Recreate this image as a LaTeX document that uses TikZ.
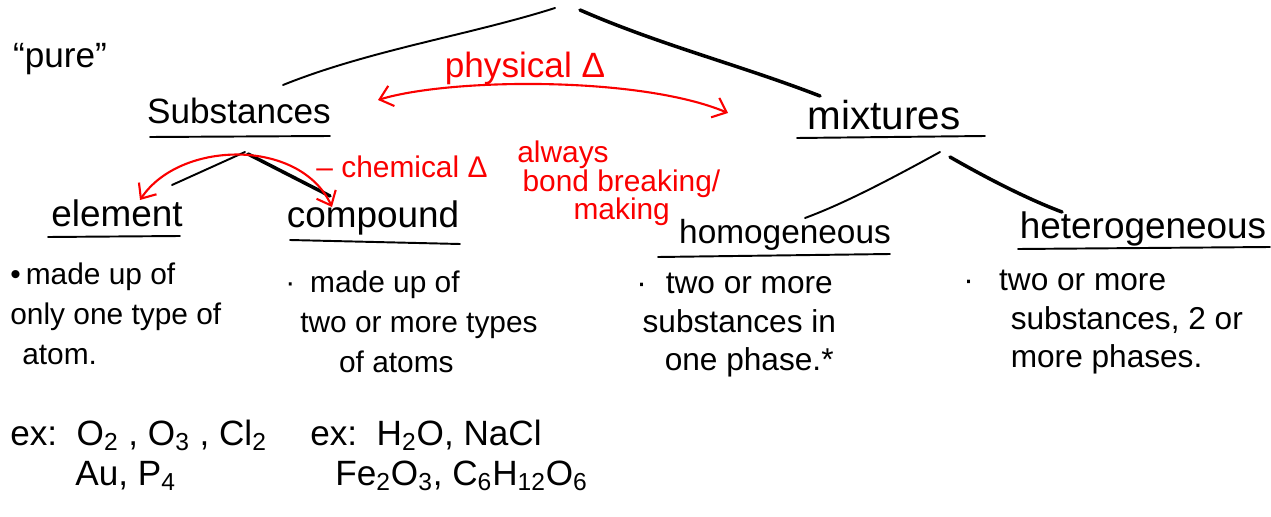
\documentclass[tikz,border=0pt]{standalone}
\usepackage{fontspec}
\setmainfont{Liberation Sans}
\usetikzlibrary{arrows.meta}
\definecolor{inkred}{RGB}{250,0,0}
\begin{document}
\begin{tikzpicture}[x=0.02cm,y=-0.02cm,
  ink/.style={draw=black,line width=1.1pt,line cap=round},
  inkbold/.style={draw=black,line width=2pt,line cap=round},
  redink/.style={draw=inkred,line width=1.2pt,line cap=round,
    {Straight Barb[length=7pt,width=12pt]}-{Straight Barb[length=7pt,width=12pt]}},
  uline/.style={draw=black,line width=1.1pt,line cap=round},
  head/.style={inner sep=0pt,anchor=base},
  body/.style={inner sep=0pt,anchor=north west,align=left,font=\fontsize{17}{22.7}\selectfont},
  hbody/.style={inner sep=0pt,anchor=north west,align=left,font=\fontsize{18}{21.8}\selectfont},
  extext/.style={inner sep=0pt,anchor=base west,font=\fontsize{20}{24}\selectfont},
  redlabel/.style={inner sep=0pt,text=inkred}
]
\useasboundingbox (0,0) rectangle (1271,517);

% headings
\node[head,font=\fontsize{20}{24}\selectfont] (pure) at (60,68) {``pure''};
\node[head,font=\fontsize{20}{24}\selectfont] (subst) at (239,124) {Substances};
\node[head,font=\fontsize{23}{27}\selectfont] (mix) at (884,130) {mixtures};
\node[head,font=\fontsize{21}{25}\selectfont] (elem) at (117,226) {element};
\node[head,font=\fontsize{21}{25}\selectfont] (comp) at (373,227) {compound};
\node[head,font=\fontsize{19}{23}\selectfont] (homo) at (785,243) {homogeneous};
\node[head,font=\fontsize{21}{25}\selectfont] (hetero) at (1143,238) {heterogeneous};

% underlines
\draw[uline] ([shift={(-89,13)}]subst.base) -- ([shift={(91,12)}]subst.base);
\draw[uline] ([shift={(-87,8)}]mix.base) -- ([shift={(101,6)}]mix.base);
\draw[uline] ([shift={(-69,11)}]elem.base) -- ([shift={(63,10)}]elem.base);
\draw[uline] ([shift={(-83,13)}]comp.base) -- ([shift={(87,17)}]comp.base);
\draw[uline] ([shift={(-127,14)}]homo.base) -- ([shift={(105,11)}]homo.base);
\draw[uline] ([shift={(-125,11)}]hetero.base) -- ([shift={(127,9)}]hetero.base);

% tree lines
\coordinate (apexL) at (555,8);
\coordinate (apexR) at (580,10);
\draw[ink] (apexL) .. controls (470,35) and (370,50) .. ([shift={(44,-39)}]subst.base);
\draw[inkbold] (apexR) .. controls (660,45) and (740,65) .. ([shift={(-64,-34)}]mix.base);

\coordinate (sapex) at ([shift={(6,28)}]subst.base);
\draw[ink] (sapex) -- ([shift={(55,-41)}]elem.base);
\draw[inkbold] ([shift={(3,2)}]sapex) -- ([shift={(-43,-31)}]comp.base);

\coordinate (mapexL) at ([shift={(56,22)}]mix.base);
\coordinate (mapexR) at ([shift={(66,27)}]mix.base);
\draw[ink] (mapexL) .. controls (880,185) and (840,205) .. ([shift={(20,-25)}]homo.base);
\draw[inkbold] (mapexR) .. controls (990,180) and (1030,200) .. ([shift={(-81,-26)}]hetero.base);

% red arrows and labels
\draw[redink] ([shift={(139,-24)}]subst.base) .. controls (450,78) and (640,76) .. ([shift={(-156,-17)}]mix.base);
\node[redlabel,anchor=base,font=\fontsize{20}{24}\selectfont] (phys) at (525,78) {physical Δ};

\draw[redink] ([shift={(23,-26)}]elem.base) .. controls (180,140) and (300,138) .. ([shift={(-41,-20)}]comp.base);
\node[redlabel,anchor=base,font=\fontsize{17}{20}\selectfont] (chem) at (402,177) {-- chemical Δ};

\node[redlabel,anchor=north west,align=left,font=\fontsize{17}{16}\selectfont] (always) at (517,141)
  {always\\\hspace{3pt}bond breaking/\\\hspace{32pt}making};

% bodies
\node[body] (elembody) at (10,263) {\textbullet\,made up of\\only one type of\\\hspace{0.4em}atom.};
\node[body] (compbody) at (285,271) {·\hspace{0.5em}made up of\\\hspace{0.5em}two or more types\\\hspace{1.8em}of atoms};
\node[hbody] (homobody) at (636,273) {·\hspace{0.6em}two or more\\\hspace{0.2em}substances in\\\hspace{0.9em}one phase.*};
\node[hbody] (heterobody) at (963,270) {·\hspace{0.8em}two or more\\\hspace{1.5em}substances, 2 or\\\hspace{1.5em}more phases.};

% examples
\node[extext] (ex1) at (10,445) {ex:\ \ O\textsubscript{2}\ , O\textsubscript{3}\ , Cl\textsubscript{2}};
\node[extext] (ex2) at (75,485) {Au, P\textsubscript{4}};
\node[extext] (ex3) at (310,445) {ex:\ \ H\textsubscript{2}O, NaCl};
\node[extext] (ex4) at (335,485) {Fe\textsubscript{2}O\textsubscript{3}, C\textsubscript{6}H\textsubscript{12}O\textsubscript{6}};
\end{tikzpicture}
\end{document}
